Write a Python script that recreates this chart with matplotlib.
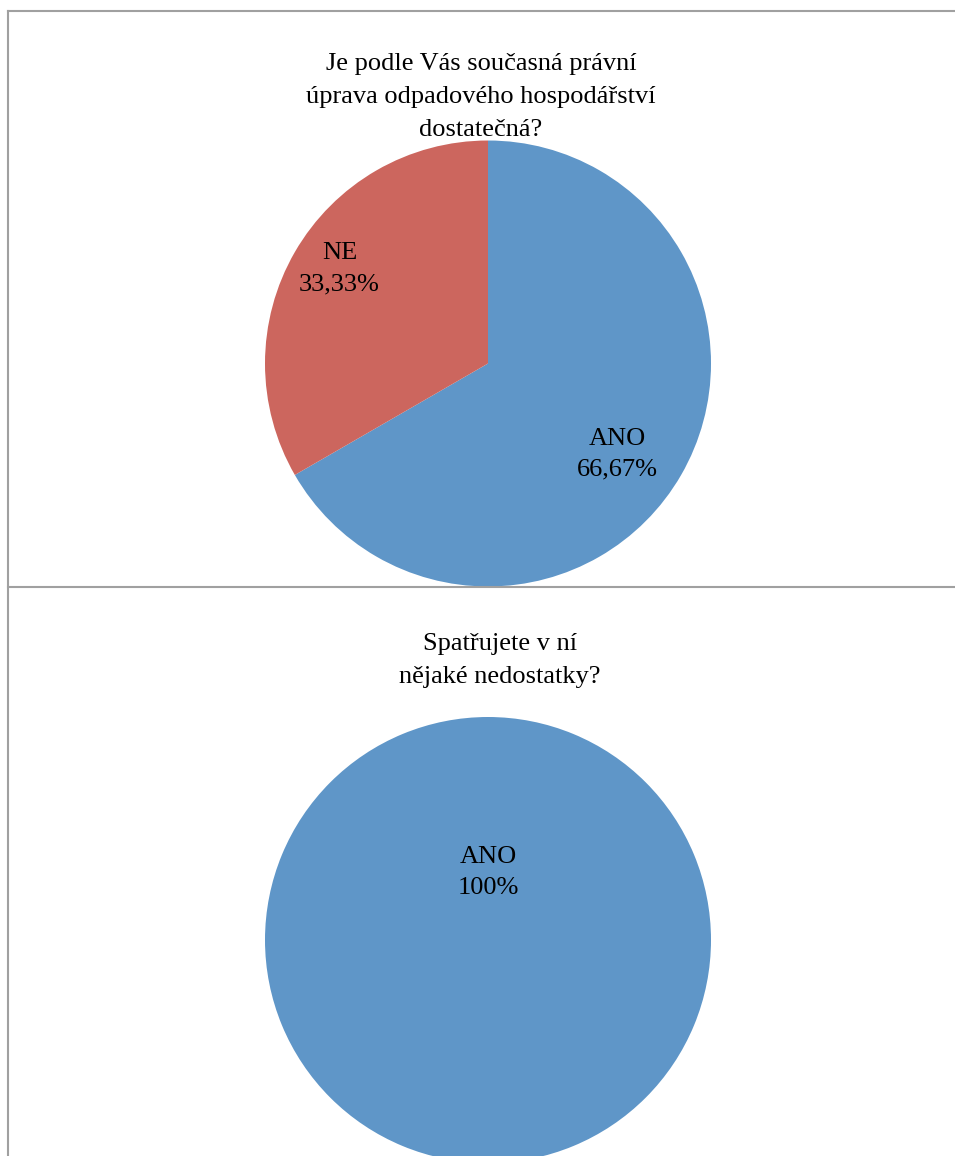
import numpy as np
import matplotlib
matplotlib.use("Agg")
import matplotlib.pyplot as plt
from matplotlib.lines import Line2D

# data
q1_title = "Je podle Vás současná právní\núprava odpadového hospodářství\ndostatečná?"
q1_labels = ["ANO", "NE"]
q1_values = [66.67, 33.33]
q1_pct = ["66,67%", "33,33%"]

q2_title = "Spatřujete v ní\nnějaké nedostatky?"
q2_labels = ["ANO"]
q2_values = [100]
q2_pct = ["100%"]

BLUE = "#5F96C8"
RED = "#CC665E"
BORDER = "#A0A0A0"
FONT = "Liberation Serif"

W, H = 955, 1156
fig = plt.figure(figsize=(W / 100, H / 100), dpi=100)


def px_ax(cx, cy, r):
    # axes box (figure fractions) for a pie centred at pixel (cx, cy) with radius r
    return [(cx - r) / W, (H - cy - r) / H, 2 * r / W, 2 * r / H]


def draw_pie(ax, values, labels, pcts, colors, dists, angles):
    ax.pie(values, colors=colors, startangle=90, counterclock=False,
           radius=1.0, wedgeprops=dict(linewidth=0))
    # label spots picked like Excel's "best fit"
    for i in range(len(values)):
        x = dists[i] * np.cos(np.deg2rad(angles[i]))
        y = dists[i] * np.sin(np.deg2rad(angles[i]))
        ax.text(x, y, labels[i] + "\n" + pcts[i], ha="center", va="center",
                fontsize=19, family=FONT, linespacing=1.52)
    ax.set_xlim(-1, 1)
    ax.set_ylim(-1, 1)
    ax.set_aspect("equal")
    ax.axis("off")


ax1 = fig.add_axes(px_ax(488, 363.5, 223))
draw_pie(ax1, q1_values, q1_labels, q1_pct, [BLUE, RED], [0.708, 0.79], [-35.2, 147.5])

ax2 = fig.add_axes(px_ax(488, 940, 223))
draw_pie(ax2, q2_values, q2_labels, q2_pct, [BLUE], [0.303], [90])

# titles
fig.text(481 / W, 1 - 53 / H, q1_title, ha="center", va="top",
         fontsize=19, family=FONT, linespacing=1.64)
fig.text(500 / W, 1 - 633 / H, q2_title, ha="center", va="top",
         fontsize=19, family=FONT, linespacing=1.64)

# chart frames
for xs, ys in [((8, W), (11, 11)), ((8, 8), (11, H)), ((8, W), (587, 587))]:
    fig.add_artist(Line2D([x / W for x in xs], [1 - y / H for y in ys],
                          color=BORDER, linewidth=1.5, transform=fig.transFigure))

fig.savefig("out.png", dpi=100)
